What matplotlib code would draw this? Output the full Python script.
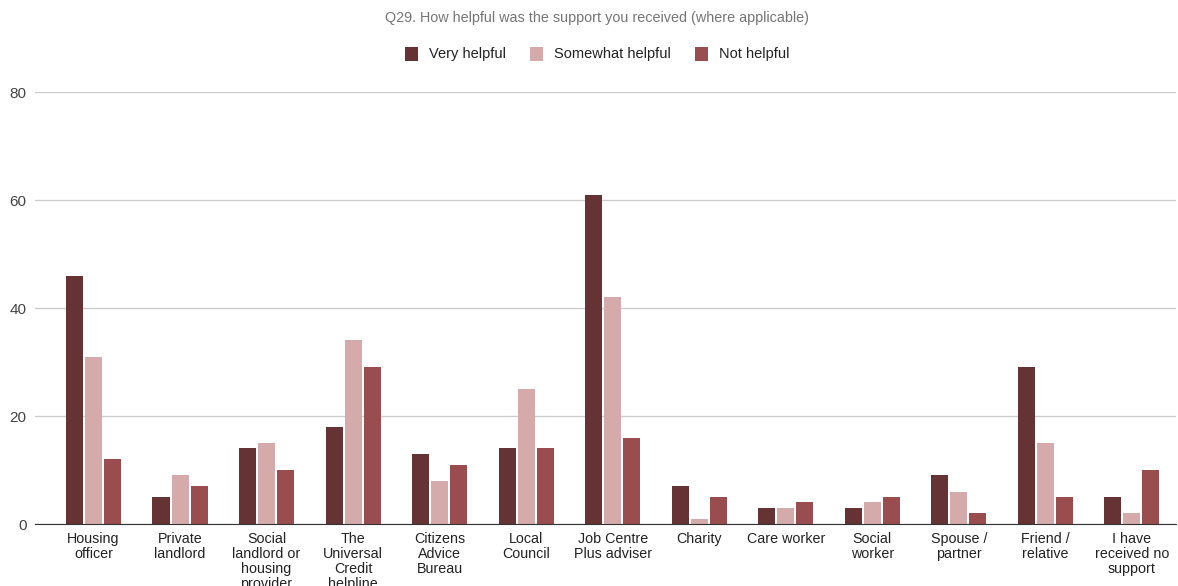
import matplotlib.pyplot as plt
import numpy as np

plt.rcParams['font.family'] = ['Liberation Sans', 'DejaVu Sans']

categories = ["Housing\nofficer", "Private\nlandlord", "Social\nlandlord or\nhousing\nprovider",
              "The\nUniversal\nCredit\nhelpline", "Citizens\nAdvice\nBureau", "Local\nCouncil",
              "Job Centre\nPlus adviser", "Charity", "Care worker", "Social\nworker",
              "Spouse /\npartner", "Friend /\nrelative", "I have\nreceived no\nsupport"]
very_helpful = [46, 5, 14, 18, 13, 14, 61, 7, 3, 3, 9, 29, 5]
somewhat_helpful = [31, 9, 15, 34, 8, 25, 42, 1, 3, 4, 6, 15, 2]
not_helpful = [12, 7, 10, 29, 11, 14, 16, 5, 4, 5, 2, 5, 10]

series = [("Very helpful", very_helpful, "#663335"),
          ("Somewhat helpful", somewhat_helpful, "#d5aaaa"),
          ("Not helpful", not_helpful, "#9a4d4e")]

fig = plt.figure(figsize=(11.78, 5.86), dpi=100)
ax = fig.add_axes([35 / 1178, 62 / 586, 1141 / 1178, 432 / 586])

x = np.arange(len(categories))
width = 0.197
step = 0.22
for i, (name, vals, color) in enumerate(series):
    ax.bar(x + (i - 1) * step, vals, width, color=color, label=name, zorder=3)

ax.set_xlim(-0.676, 12.51)
ax.set_ylim(0, 80)
ax.set_yticks([0, 20, 40, 60, 80])
ax.yaxis.grid(True, color="#cccccc", linewidth=1, zorder=0)
ax.set_xticks(x)
ax.set_xticklabels(categories, fontsize=10.3, color="#222222", linespacing=1.08)
ax.tick_params(axis='x', length=0, pad=6)
ax.tick_params(axis='y', length=0, labelsize=11, labelcolor="#444444", pad=6)
for s in ['top', 'right', 'left']:
    ax.spines[s].set_visible(False)
ax.spines['bottom'].set_color("#333333")
ax.spines['bottom'].set_zorder(4)

fig.text(0.507, 1 - 18 / 586, "Q29. How helpful was the support you received (where applicable)",
         ha='center', va='center', fontsize=10.4, color="#757575")
fig.legend(loc='center', bbox_to_anchor=(0.507, 1 - 54 / 586), ncol=3, frameon=False,
           fontsize=10.5, handlelength=0.9, handleheight=1.1, columnspacing=1.6,
           handletextpad=0.8, labelcolor="#222222")

fig.savefig("out.png", dpi=100)
